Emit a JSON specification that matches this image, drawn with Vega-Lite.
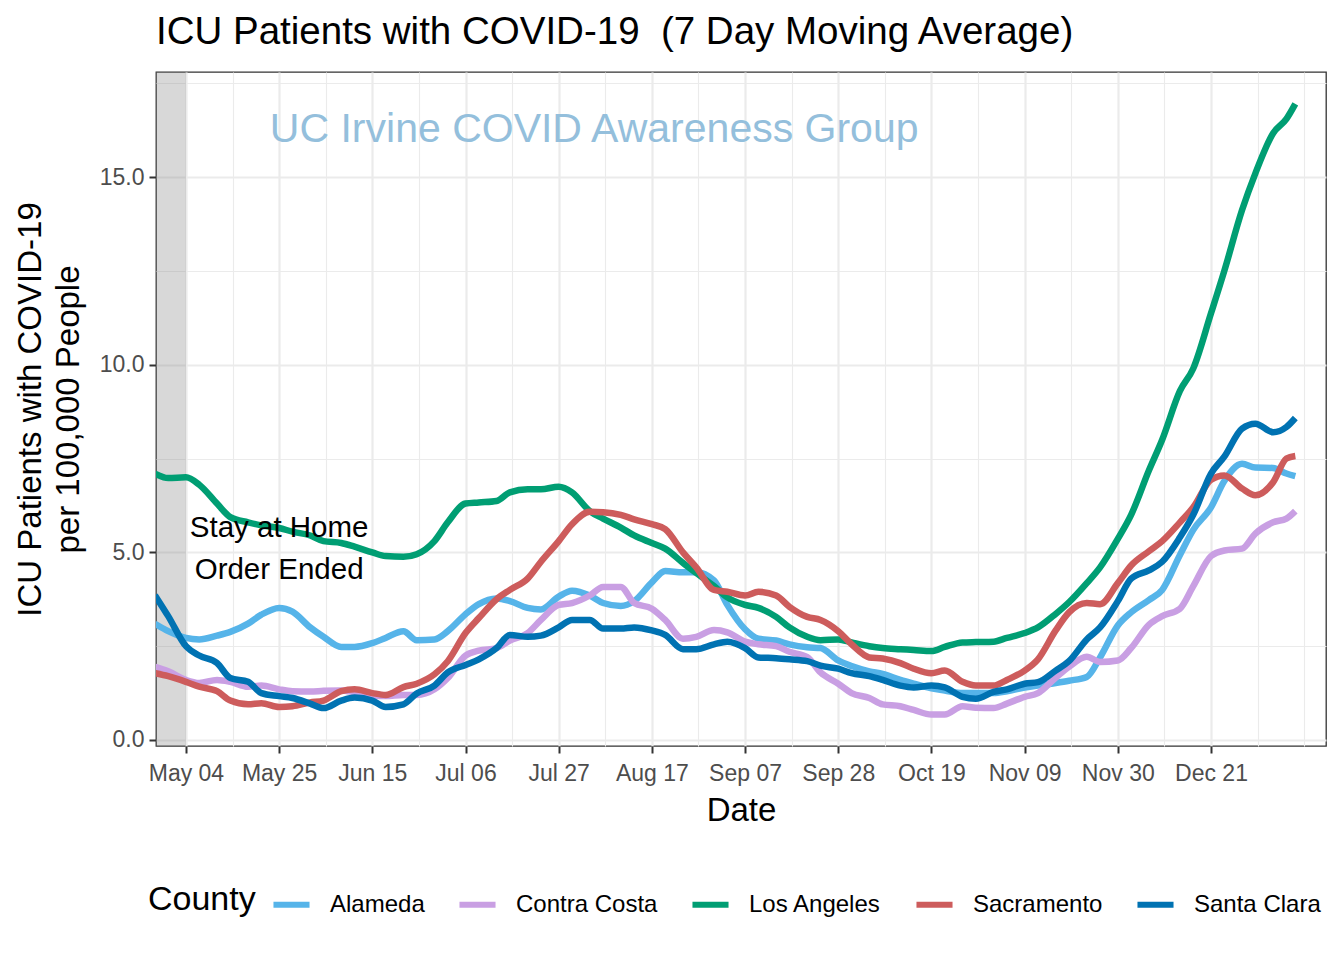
{
  "$schema": "https://vega.github.io/schema/vega-lite/v6.json",
  "width": 1170,
  "height": 674,
  "autosize": {"type": "none"},
  "padding": {"left": 156, "top": 72, "right": 18, "bottom": 214},
  "background": "white",
  "title": {
    "text": "ICU Patients with COVID-19\u00a0 (7 Day Moving Average)",
    "anchor": "start",
    "frame": "group",
    "fontSize": 38.5,
    "fontWeight": "normal",
    "color": "black",
    "baseline": "alphabetic",
    "offset": -10
  },
  "config": {
    "font": "Liberation Sans",
    "view": {"stroke": "#333333", "strokeWidth": 1.3}
  },
  "datasets": {
    "icu": [
      {"date": "2020-04-27", "Alameda": 3.1, "Contra Costa": 1.95, "Los Angeles": 7.1, "Sacramento": 1.78, "Santa Clara": 3.86},
      {"date": "2020-04-30", "Alameda": 2.9, "Contra Costa": 1.83, "Los Angeles": 6.98, "Sacramento": 1.7, "Santa Clara": 3.3},
      {"date": "2020-05-04", "Alameda": 2.72, "Contra Costa": 1.6, "Los Angeles": 7.0, "Sacramento": 1.55, "Santa Clara": 2.5},
      {"date": "2020-05-07", "Alameda": 2.68, "Contra Costa": 1.52, "Los Angeles": 6.8, "Sacramento": 1.42, "Santa Clara": 2.25},
      {"date": "2020-05-11", "Alameda": 2.78, "Contra Costa": 1.6, "Los Angeles": 6.3, "Sacramento": 1.3, "Santa Clara": 2.05},
      {"date": "2020-05-14", "Alameda": 2.88, "Contra Costa": 1.55, "Los Angeles": 5.94, "Sacramento": 1.05, "Santa Clara": 1.65},
      {"date": "2020-05-18", "Alameda": 3.1, "Contra Costa": 1.42, "Los Angeles": 5.8, "Sacramento": 0.95, "Santa Clara": 1.55},
      {"date": "2020-05-21", "Alameda": 3.34, "Contra Costa": 1.45, "Los Angeles": 5.72, "Sacramento": 0.98, "Santa Clara": 1.25},
      {"date": "2020-05-25", "Alameda": 3.52, "Contra Costa": 1.35, "Los Angeles": 5.65, "Sacramento": 0.88, "Santa Clara": 1.17},
      {"date": "2020-05-28", "Alameda": 3.42, "Contra Costa": 1.3, "Los Angeles": 5.55, "Sacramento": 0.9, "Santa Clara": 1.12},
      {"date": "2020-06-01", "Alameda": 3.0, "Contra Costa": 1.29, "Los Angeles": 5.45, "Sacramento": 1.0, "Santa Clara": 0.97},
      {"date": "2020-06-04", "Alameda": 2.75, "Contra Costa": 1.31, "Los Angeles": 5.3, "Sacramento": 1.05, "Santa Clara": 0.85},
      {"date": "2020-06-08", "Alameda": 2.48, "Contra Costa": 1.32, "Los Angeles": 5.25, "Sacramento": 1.3, "Santa Clara": 1.05},
      {"date": "2020-06-11", "Alameda": 2.48, "Contra Costa": 1.27, "Los Angeles": 5.15, "Sacramento": 1.35, "Santa Clara": 1.13},
      {"date": "2020-06-15", "Alameda": 2.58, "Contra Costa": 1.18, "Los Angeles": 5.0, "Sacramento": 1.25, "Santa Clara": 1.05},
      {"date": "2020-06-18", "Alameda": 2.72, "Contra Costa": 1.17, "Los Angeles": 4.9, "Sacramento": 1.2, "Santa Clara": 0.88},
      {"date": "2020-06-22", "Alameda": 2.9, "Contra Costa": 1.2, "Los Angeles": 4.88, "Sacramento": 1.41, "Santa Clara": 0.95},
      {"date": "2020-06-25", "Alameda": 2.66, "Contra Costa": 1.2, "Los Angeles": 4.95, "Sacramento": 1.5, "Santa Clara": 1.24},
      {"date": "2020-06-29", "Alameda": 2.68, "Contra Costa": 1.35, "Los Angeles": 5.3, "Sacramento": 1.75, "Santa Clara": 1.45},
      {"date": "2020-07-02", "Alameda": 2.9, "Contra Costa": 1.65, "Los Angeles": 5.8, "Sacramento": 2.1, "Santa Clara": 1.8},
      {"date": "2020-07-06", "Alameda": 3.35, "Contra Costa": 2.25, "Los Angeles": 6.3, "Sacramento": 2.85, "Santa Clara": 2.0},
      {"date": "2020-07-09", "Alameda": 3.62, "Contra Costa": 2.38, "Los Angeles": 6.33, "Sacramento": 3.25, "Santa Clara": 2.15},
      {"date": "2020-07-13", "Alameda": 3.77, "Contra Costa": 2.45, "Los Angeles": 6.37, "Sacramento": 3.75, "Santa Clara": 2.45},
      {"date": "2020-07-16", "Alameda": 3.7, "Contra Costa": 2.65, "Los Angeles": 6.6, "Sacramento": 4.0, "Santa Clara": 2.8},
      {"date": "2020-07-20", "Alameda": 3.52, "Contra Costa": 2.85, "Los Angeles": 6.68, "Sacramento": 4.3, "Santa Clara": 2.75},
      {"date": "2020-07-23", "Alameda": 3.48, "Contra Costa": 3.2, "Los Angeles": 6.68, "Sacramento": 4.75, "Santa Clara": 2.78},
      {"date": "2020-07-27", "Alameda": 3.82, "Contra Costa": 3.6, "Los Angeles": 6.75, "Sacramento": 5.3, "Santa Clara": 3.0},
      {"date": "2020-07-30", "Alameda": 3.98, "Contra Costa": 3.65, "Los Angeles": 6.6, "Sacramento": 5.75, "Santa Clara": 3.2},
      {"date": "2020-08-03", "Alameda": 3.85, "Contra Costa": 3.85, "Los Angeles": 6.1, "Sacramento": 6.08, "Santa Clara": 3.2},
      {"date": "2020-08-06", "Alameda": 3.65, "Contra Costa": 4.08, "Los Angeles": 5.9, "Sacramento": 6.07, "Santa Clara": 2.97},
      {"date": "2020-08-10", "Alameda": 3.57, "Contra Costa": 4.08, "Los Angeles": 5.66, "Sacramento": 6.0, "Santa Clara": 2.97},
      {"date": "2020-08-13", "Alameda": 3.7, "Contra Costa": 3.65, "Los Angeles": 5.45, "Sacramento": 5.88, "Santa Clara": 3.0},
      {"date": "2020-08-17", "Alameda": 4.2, "Contra Costa": 3.5, "Los Angeles": 5.25, "Sacramento": 5.75, "Santa Clara": 2.92},
      {"date": "2020-08-20", "Alameda": 4.5, "Contra Costa": 3.2, "Los Angeles": 5.1, "Sacramento": 5.62, "Santa Clara": 2.8},
      {"date": "2020-08-24", "Alameda": 4.47, "Contra Costa": 2.7, "Los Angeles": 4.72, "Sacramento": 5.0, "Santa Clara": 2.42},
      {"date": "2020-08-27", "Alameda": 4.47, "Contra Costa": 2.75, "Los Angeles": 4.45, "Sacramento": 4.6, "Santa Clara": 2.42},
      {"date": "2020-08-31", "Alameda": 4.25, "Contra Costa": 2.93, "Los Angeles": 4.1, "Sacramento": 4.0, "Santa Clara": 2.55},
      {"date": "2020-09-03", "Alameda": 3.6, "Contra Costa": 2.87, "Los Angeles": 3.8, "Sacramento": 3.95, "Santa Clara": 2.62},
      {"date": "2020-09-07", "Alameda": 2.95, "Contra Costa": 2.62, "Los Angeles": 3.6, "Sacramento": 3.85, "Santa Clara": 2.45},
      {"date": "2020-09-10", "Alameda": 2.7, "Contra Costa": 2.55, "Los Angeles": 3.52, "Sacramento": 3.95, "Santa Clara": 2.2},
      {"date": "2020-09-14", "Alameda": 2.65, "Contra Costa": 2.5, "Los Angeles": 3.28, "Sacramento": 3.85, "Santa Clara": 2.18},
      {"date": "2020-09-17", "Alameda": 2.55, "Contra Costa": 2.35, "Los Angeles": 3.0, "Sacramento": 3.55, "Santa Clara": 2.15},
      {"date": "2020-09-21", "Alameda": 2.47, "Contra Costa": 2.21, "Los Angeles": 2.75, "Sacramento": 3.28, "Santa Clara": 2.1},
      {"date": "2020-09-24", "Alameda": 2.45, "Contra Costa": 1.8, "Los Angeles": 2.66, "Sacramento": 3.2, "Santa Clara": 1.98},
      {"date": "2020-09-28", "Alameda": 2.12, "Contra Costa": 1.5, "Los Angeles": 2.68, "Sacramento": 2.9, "Santa Clara": 1.9},
      {"date": "2020-10-01", "Alameda": 1.97, "Contra Costa": 1.25, "Los Angeles": 2.6, "Sacramento": 2.55, "Santa Clara": 1.78},
      {"date": "2020-10-05", "Alameda": 1.83, "Contra Costa": 1.12, "Los Angeles": 2.5, "Sacramento": 2.2, "Santa Clara": 1.7},
      {"date": "2020-10-08", "Alameda": 1.76, "Contra Costa": 0.95, "Los Angeles": 2.45, "Sacramento": 2.17, "Santa Clara": 1.6},
      {"date": "2020-10-12", "Alameda": 1.6, "Contra Costa": 0.9, "Los Angeles": 2.42, "Sacramento": 2.05, "Santa Clara": 1.45},
      {"date": "2020-10-15", "Alameda": 1.5, "Contra Costa": 0.8, "Los Angeles": 2.4, "Sacramento": 1.9, "Santa Clara": 1.4},
      {"date": "2020-10-19", "Alameda": 1.38, "Contra Costa": 0.68, "Los Angeles": 2.37, "Sacramento": 1.78, "Santa Clara": 1.45},
      {"date": "2020-10-22", "Alameda": 1.32, "Contra Costa": 0.68, "Los Angeles": 2.48, "Sacramento": 1.85, "Santa Clara": 1.4},
      {"date": "2020-10-26", "Alameda": 1.25, "Contra Costa": 0.9, "Los Angeles": 2.6, "Sacramento": 1.55, "Santa Clara": 1.15},
      {"date": "2020-10-29", "Alameda": 1.25, "Contra Costa": 0.86, "Los Angeles": 2.61, "Sacramento": 1.45, "Santa Clara": 1.1},
      {"date": "2020-11-02", "Alameda": 1.25, "Contra Costa": 0.85, "Los Angeles": 2.62, "Sacramento": 1.45, "Santa Clara": 1.28},
      {"date": "2020-11-05", "Alameda": 1.3, "Contra Costa": 0.97, "Los Angeles": 2.72, "Sacramento": 1.6, "Santa Clara": 1.35},
      {"date": "2020-11-09", "Alameda": 1.4, "Contra Costa": 1.15, "Los Angeles": 2.85, "Sacramento": 1.85, "Santa Clara": 1.5},
      {"date": "2020-11-12", "Alameda": 1.45, "Contra Costa": 1.25, "Los Angeles": 3.0, "Sacramento": 2.15, "Santa Clara": 1.54},
      {"date": "2020-11-16", "Alameda": 1.52, "Contra Costa": 1.66, "Los Angeles": 3.36, "Sacramento": 2.92, "Santa Clara": 1.85},
      {"date": "2020-11-19", "Alameda": 1.58, "Contra Costa": 1.95, "Los Angeles": 3.67, "Sacramento": 3.4, "Santa Clara": 2.1},
      {"date": "2020-11-23", "Alameda": 1.68, "Contra Costa": 2.22, "Los Angeles": 4.18, "Sacramento": 3.65, "Santa Clara": 2.68},
      {"date": "2020-11-26", "Alameda": 2.2, "Contra Costa": 2.08, "Los Angeles": 4.6, "Sacramento": 3.62, "Santa Clara": 3.0},
      {"date": "2020-11-30", "Alameda": 3.05, "Contra Costa": 2.12, "Los Angeles": 5.36, "Sacramento": 4.18, "Santa Clara": 3.7},
      {"date": "2020-12-03", "Alameda": 3.4, "Contra Costa": 2.45, "Los Angeles": 6.0, "Sacramento": 4.65, "Santa Clara": 4.3},
      {"date": "2020-12-07", "Alameda": 3.73, "Contra Costa": 3.07, "Los Angeles": 7.18, "Sacramento": 5.03, "Santa Clara": 4.52},
      {"date": "2020-12-10", "Alameda": 4.0, "Contra Costa": 3.3, "Los Angeles": 8.0, "Sacramento": 5.3, "Santa Clara": 4.75},
      {"date": "2020-12-14", "Alameda": 4.93, "Contra Costa": 3.5, "Los Angeles": 9.3, "Sacramento": 5.8, "Santa Clara": 5.4},
      {"date": "2020-12-17", "Alameda": 5.6, "Contra Costa": 4.1, "Los Angeles": 9.9, "Sacramento": 6.2, "Santa Clara": 6.0},
      {"date": "2020-12-21", "Alameda": 6.2, "Contra Costa": 4.9, "Los Angeles": 11.37, "Sacramento": 6.93, "Santa Clara": 7.1},
      {"date": "2020-12-24", "Alameda": 6.9, "Contra Costa": 5.05, "Los Angeles": 12.5, "Sacramento": 7.05, "Santa Clara": 7.55},
      {"date": "2020-12-28", "Alameda": 7.36, "Contra Costa": 5.1, "Los Angeles": 14.12, "Sacramento": 6.7, "Santa Clara": 8.3},
      {"date": "2020-12-31", "Alameda": 7.26, "Contra Costa": 5.5, "Los Angeles": 15.1, "Sacramento": 6.52, "Santa Clara": 8.43},
      {"date": "2021-01-04", "Alameda": 7.25, "Contra Costa": 5.8, "Los Angeles": 16.17, "Sacramento": 6.87, "Santa Clara": 8.2},
      {"date": "2021-01-07", "Alameda": 7.1, "Contra Costa": 5.9, "Los Angeles": 16.55, "Sacramento": 7.5, "Santa Clara": 8.34},
      {"date": "2021-01-09", "Alameda": 7.03, "Contra Costa": 6.1, "Los Angeles": 16.95, "Sacramento": 7.57, "Santa Clara": 8.58}
    ]
  },
  "layer": [
    {
      "data": {"values": [{"date": "2020-04-01", "date_end": "2020-05-04"}]},
      "mark": {"type": "rect", "color": "#7F7F7F", "opacity": 0.3, "clip": true},
      "encoding": {
        "x": {"field": "date", "type": "temporal"},
        "x2": {"field": "date_end"}
      }
    },
    {
      "data": {"name": "icu"},
      "transform": [
        {"fold": ["Alameda", "Contra Costa", "Los Angeles", "Sacramento", "Santa Clara"], "as": ["County", "value"]}
      ],
      "mark": {"type": "line", "strokeWidth": 6.5, "interpolate": "monotone", "clip": true},
      "encoding": {
        "x": {
          "field": "date",
          "type": "temporal",
          "scale": {
            "type": "utc",
            "domain": [
              {"year": 2020, "month": 4, "date": 27, "hours": 6, "utc": true},
              {"year": 2021, "month": 1, "date": 15, "hours": 22, "utc": true}
            ]
          },
          "axis": {
            "title": "Date",
            "values": [
              {"year": 2020, "month": 5, "date": 4, "utc": true},
              {"year": 2020, "month": 5, "date": 14, "hours": 12, "utc": true},
              {"year": 2020, "month": 5, "date": 25, "utc": true},
              {"year": 2020, "month": 6, "date": 4, "hours": 12, "utc": true},
              {"year": 2020, "month": 6, "date": 15, "utc": true},
              {"year": 2020, "month": 6, "date": 25, "hours": 12, "utc": true},
              {"year": 2020, "month": 7, "date": 6, "utc": true},
              {"year": 2020, "month": 7, "date": 16, "hours": 12, "utc": true},
              {"year": 2020, "month": 7, "date": 27, "utc": true},
              {"year": 2020, "month": 8, "date": 6, "hours": 12, "utc": true},
              {"year": 2020, "month": 8, "date": 17, "utc": true},
              {"year": 2020, "month": 8, "date": 27, "hours": 12, "utc": true},
              {"year": 2020, "month": 9, "date": 7, "utc": true},
              {"year": 2020, "month": 9, "date": 17, "hours": 12, "utc": true},
              {"year": 2020, "month": 9, "date": 28, "utc": true},
              {"year": 2020, "month": 10, "date": 8, "hours": 12, "utc": true},
              {"year": 2020, "month": 10, "date": 19, "utc": true},
              {"year": 2020, "month": 10, "date": 29, "hours": 12, "utc": true},
              {"year": 2020, "month": 11, "date": 9, "utc": true},
              {"year": 2020, "month": 11, "date": 19, "hours": 12, "utc": true},
              {"year": 2020, "month": 11, "date": 30, "utc": true},
              {"year": 2020, "month": 12, "date": 10, "hours": 12, "utc": true},
              {"year": 2020, "month": 12, "date": 21, "utc": true},
              {"year": 2020, "month": 12, "date": 31, "hours": 12, "utc": true},
              {"year": 2021, "month": 1, "date": 11, "hours": 1, "utc": true}
            ],
            "labelExpr": "utchours(datum.value) == 0 ? utcFormat(datum.value, '%b %d') : ''",
            "domain": false,
            "gridColor": "#EBEBEB",
            "gridWidth": {"condition": {"test": "utchours(datum.value) != 0", "value": 1.1}, "value": 2.2},
            "tickOpacity": {"condition": {"test": "utchours(datum.value) != 0", "value": 0}, "value": 1},
            "tickColor": "#333333",
            "tickWidth": 2,
            "tickSize": 7,
            "labelFontSize": 23,
            "labelColor": "#4D4D4D",
            "labelPadding": 9,
            "labelFlush": false,
            "labelOverlap": false,
            "titleFontSize": 33,
            "titleFontWeight": "normal",
            "titleColor": "black",
            "titlePadding": 9
          }
        },
        "y": {
          "field": "value",
          "type": "quantitative",
          "scale": {"domain": [-0.16, 17.8], "nice": false, "zero": false},
          "axis": {
            "title": ["ICU Patients with COVID-19", "per 100,000 People"],
            "values": [0, 2.5, 5, 7.5, 10, 12.5, 15, 17.5],
            "labelExpr": "datum.value % 5 == 0 ? format(datum.value, '.1f') : ''",
            "domain": false,
            "gridColor": "#EBEBEB",
            "gridWidth": {"condition": {"test": "datum.value % 5 != 0", "value": 1.1}, "value": 2.2},
            "tickOpacity": {"condition": {"test": "datum.value % 5 != 0", "value": 0}, "value": 1},
            "tickColor": "#333333",
            "tickWidth": 2,
            "tickSize": 7,
            "labelFontSize": 23,
            "labelColor": "#4D4D4D",
            "labelPadding": 5,
            "titleFontSize": 33,
            "titleFontWeight": "normal",
            "titleColor": "black",
            "titleLineHeight": 38,
            "titlePadding": 14
          }
        },
        "color": {
          "field": "County",
          "type": "nominal",
          "scale": {
            "domain": ["Alameda", "Contra Costa", "Los Angeles", "Sacramento", "Santa Clara"],
            "range": ["#56B4E9", "#C99FE3", "#009E73", "#CD5C5C", "#0072B2"]
          },
          "legend": {
            "orient": "none",
            "direction": "horizontal",
            "legendX": -8,
            "legendY": 811,
            "title": "County",
            "titleOrient": "left",
            "titleFontSize": 34,
            "titleFontWeight": "normal",
            "titleColor": "black",
            "titlePadding": 14,
            "labelFontSize": 24,
            "labelColor": "black",
            "labelOffset": 17,
            "symbolType": "stroke",
            "symbolStrokeWidth": 6,
            "symbolSize": 1300,
            "columnPadding": 22
          }
        }
      }
    },
    {
      "data": {"values": [{"date": "2020-08-04", "value": 16.25, "label": "UC Irvine COVID Awareness Group"}]},
      "mark": {"type": "text", "fontSize": 41, "color": "#94BFDC", "align": "center", "baseline": "middle"},
      "encoding": {
        "x": {"field": "date", "type": "temporal"},
        "y": {"field": "value", "type": "quantitative"},
        "text": {"field": "label"}
      }
    },
    {
      "data": {"values": [
        {"date": "2020-05-25", "value": 5.65, "label": "Stay at Home"},
        {"date": "2020-05-25", "value": 4.53, "label": "Order Ended"}
      ]},
      "mark": {"type": "text", "fontSize": 29.5, "color": "black", "align": "center", "baseline": "middle"},
      "encoding": {
        "x": {"field": "date", "type": "temporal"},
        "y": {"field": "value", "type": "quantitative"},
        "text": {"field": "label"}
      }
    }
  ]
}
